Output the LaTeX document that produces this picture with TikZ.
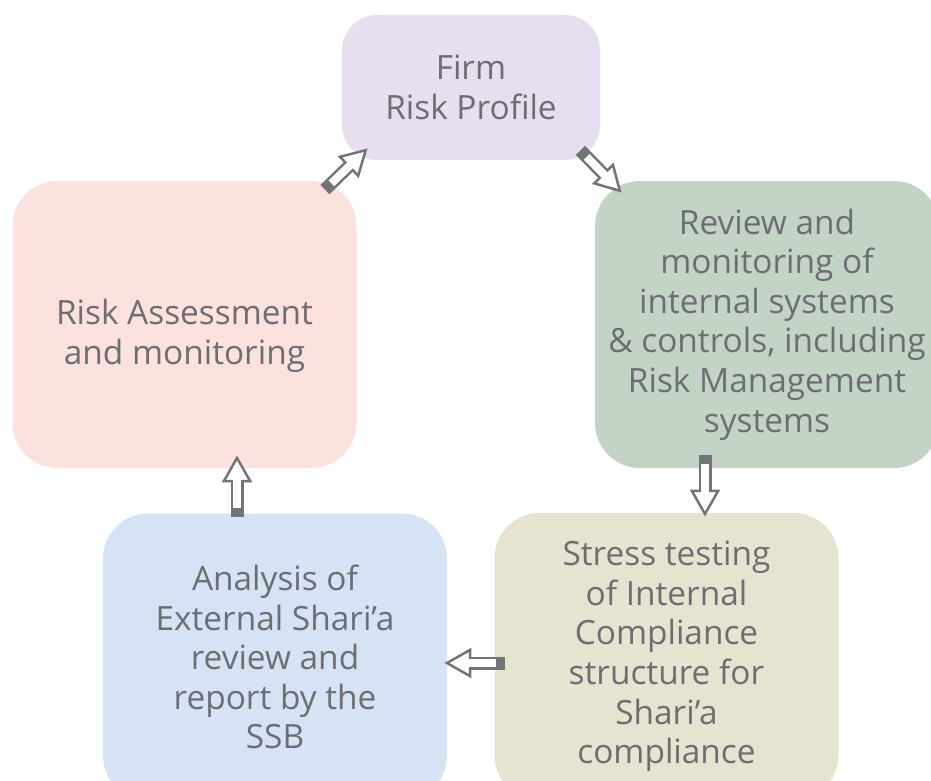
\documentclass[tikz,border=0pt]{standalone}
\usepackage{fontspec}
\setmainfont{Open Sans}
\usetikzlibrary{arrows.meta}
\definecolor{textgray}{HTML}{6D6E71}
\definecolor{arrowgray}{HTML}{737475}
\definecolor{firmfill}{HTML}{E7DFF0}
\definecolor{assessfill}{HTML}{FCE2DF}
\definecolor{reviewfill}{HTML}{C3D4C6}
\definecolor{stressfill}{HTML}{E6E3D1}
\definecolor{analysisfill}{HTML}{D6E3F4}

\begin{document}
\begin{tikzpicture}[x=0.5pt,y=-0.5pt]
        \tikzstyle{stage}=[rectangle,rounded corners=22.5pt,minimum width=172pt,minimum height=143.5pt,inner sep=0pt,align=center,text=textgray,font={\fontsize{16.7}{19.8}\selectfont}]
        \tikzstyle{flow}=[draw=arrowgray,line width=6.5pt,-{Triangle[length=13.5pt,width=15pt,line width=1.25pt,fill=white]},postaction={draw=white,line width=4pt,arrows=-,shorten <=4.5pt,shorten >=11.5pt}]
        \clip (0,0) rectangle (931,781);
        \node [stage,fill=firmfill,rounded corners=17.5pt,minimum width=129pt,minimum height=72.5pt] (firm) at (471,87.5) {Firm\\Risk Profile};
        \node [stage,fill=assessfill,text height=44pt] (assess) at (184.5,324.5) {Risk Assessment\\and monitoring};
        \node [stage,fill=reviewfill] (review) at (767,324.5) {Review and\\monitoring of\\internal systems\\\& controls, including\\Risk Management\\systems};
        \node [stage,fill=stressfill] (stress) at (666.5,656.5) {Stress testing\\of Internal\\Compliance\\structure for\\Shari’a\\compliance};
        \node [stage,fill=analysisfill] (analysis) at (275,657) {Analysis of\\External Shari’a\\review and\\report by the\\SSB};
        % cycle of hollow arrows
        \draw [flow] ([shift={(-32,9)}]assess.north east) -- ([shift={(26,-12)}]firm.south west);
        \draw [flow] ([shift={(-20,-10)}]firm.south east) -- ([shift={(27,12)}]review.north west);
        \draw [flow] ([shift={(-62,-13)}]review.south) -- ([shift={(38.5,4)}]stress.north);
        \draw [flow] ([shift={(11,6.5)}]stress.west) -- ([shift={(-3,6)}]analysis.east);
        \draw [flow] ([shift={(-38,4)}]analysis.north) -- ([shift={(52.5,-13)}]assess.south);
    \end{tikzpicture}
\end{document}
